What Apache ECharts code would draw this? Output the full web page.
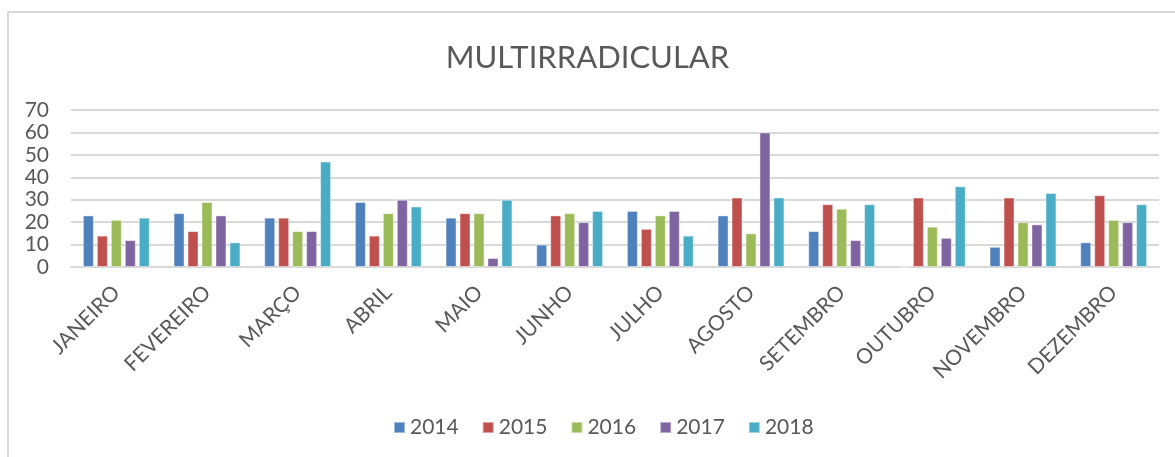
<!DOCTYPE html>
<html>
<head>
<meta charset="utf-8">
<script src="https://cdn.jsdelivr.net/npm/echarts@6/dist/echarts.min.js"></script>
<style>
    html, body { margin: 0; padding: 0; background: #fff; }
    #frame {
        position: absolute; left: 7px; top: 11px; right: -2px; bottom: -2px;
        border: 2px solid #d9d9d9;
    }
    #chart { width: 1175px; height: 457px; position: absolute; left: 0; top: 0; }
</style>
</head>
<body>
<div id="frame"></div>
<div id="chart"></div>
<script>
const meses = ['JANEIRO', 'FEVEREIRO', 'MARÇO', 'ABRIL', 'MAIO', 'JUNHO', 'JULHO', 'AGOSTO', 'SETEMBRO', 'OUTUBRO', 'NOVEMBRO', 'DEZEMBRO'];
const anos = ['2014', '2015', '2016', '2017', '2018'];
const v2014 = [23, 24, 22, 29, 22, 10, 25, 23, 16, 0, 9, 11];
const v2015 = [14, 16, 22, 14, 24, 23, 17, 31, 28, 31, 31, 32];
const v2016 = [21, 29, 16, 24, 24, 24, 23, 15, 26, 18, 20, 21];
const v2017 = [12, 23, 16, 30, 4, 20, 25, 60, 12, 13, 19, 20];
const v2018 = [22, 11, 47, 27, 30, 25, 14, 31, 28, 36, 33, 28];
const cores = ['#4F81BD', '#C0504D', '#9BBB59', '#8064A2', '#4BACC6'];

const valores = [v2014, v2015, v2016, v2017, v2018];
const font = 'Lato, "Open Sans", sans-serif';

const chart = echarts.init(document.getElementById('chart'), null, { renderer: 'canvas' });
chart.setOption({
    animation: false,
    color: cores,
    title: {
        text: 'MULTIRRADICULAR',
        left: 'center',
        top: 37,
        textStyle: { fontFamily: font, fontSize: 31, fontWeight: 'normal', color: '#595959' }
    },
    legend: {
        bottom: 14,
        left: 388,
        itemWidth: 11,
        itemHeight: 11,
        itemGap: 23,
        icon: 'rect',
        textStyle: { fontFamily: font, fontSize: 21, color: '#595959' },
        data: anos
    },
    grid: { left: 71, right: 16, top: 110, bottom: 190 },
    xAxis: {
        type: 'category',
        data: meses,
        axisLine: { show: true, lineStyle: { color: '#d9d9d9', width: 2 } },
        axisTick: { show: false },
        axisLabel: {
            rotate: 45,
            margin: 22,
            fontFamily: font,
            fontSize: 21,
            color: '#595959',
            interval: 0
        }
    },
    yAxis: {
        type: 'value',
        min: 0,
        max: 70,
        interval: 10,
        axisLine: { show: false },
        axisTick: { show: false },
        splitLine: { lineStyle: { color: '#d9d9d9', width: 2 } },
        axisLabel: { fontFamily: font, fontSize: 21, color: '#595959', margin: 22 }
    },
    series: anos.map((a, i) => ({
        name: a,
        type: 'bar',
        data: valores[i],
        barWidth: 11,
        barGap: '27%',
        itemStyle: { borderColor: 'rgba(255,255,255,0.45)', borderWidth: 1 }
    }))
});
</script>
</body>
</html>
